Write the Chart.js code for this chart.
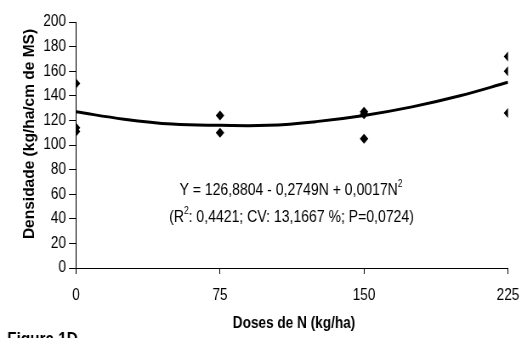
<!DOCTYPE html>
<html>
<head>
<meta charset="utf-8">
<script src="https://cdn.jsdelivr.net/npm/chart.js@4/dist/chart.umd.min.js"></script>
<style>
  html, body { margin: 0; padding: 0; background: #fff; overflow: hidden; }
  #wrap { width: 520px; height: 338px; position: relative; overflow: hidden; }
  #c { position: absolute; left: 0; top: 0; width: 612px; height: 338px;
       transform: scaleX(0.85); transform-origin: 0 0; }
</style>
</head>
<body>
<div id="wrap"><canvas id="c" width="612" height="338"></canvas></div>
<script>
// ---- data ----
const doseTicks = [0, 75, 150, 225];
const obsDose = [0, 0, 0, 75, 75, 150, 150, 150, 225, 225, 225];
const obsDensity = [150, 114, 111, 124, 110, 127, 125, 105, 172, 160, 126];
const curveDose = [0, 25, 50, 75, 100, 125, 150, 175, 200, 225];
const curveDensity = [127, 121, 117, 116, 116, 119, 124, 131, 140, 151];
const yMin = 0, yMax = 200, yStep = 20;

const xTitle = 'Doses de N (kg/ha)';
const yTitle = 'Densidade (kg/ha/cm de MS)';
const eqLine1 = ['Y = 126,8804 - 0,2749N + 0,0017N', '2', ''];
const eqLine2 = ['(R', '2', ': 0,4421; CV: 13,1667 %; P=0,0724)'];
const figLabel = 'Figura 1D';

const SQ = 0.85; // horizontal squeeze of the whole picture
const FONT = "'Liberation Sans', Arial, sans-serif";

const obsPoints = obsDose.map((d, i) => ({ x: d, y: obsDensity[i] }));
const curvePoints = curveDose.map((d, i) => ({ x: d, y: curveDensity[i] }));

function drawSupLine(ctx, parts, cx, cy, size) {
  const main = size + 'px ' + FONT;
  const sup = Math.round(size * 0.6) + 'px ' + FONT;
  ctx.font = main;
  const w0 = ctx.measureText(parts[0]).width;
  const w2 = ctx.measureText(parts[2]).width;
  ctx.font = sup;
  const w1 = ctx.measureText(parts[1]).width;
  let x = cx - (w0 + w1 + w2) / 2;
  ctx.textAlign = 'left';
  ctx.textBaseline = 'middle';
  ctx.font = main;
  ctx.fillText(parts[0], x, cy);
  x += w0;
  ctx.font = sup;
  ctx.fillText(parts[1], x, cy - size * 0.33);
  x += w1;
  ctx.font = main;
  ctx.fillText(parts[2], x, cy);
}

const textPlugin = {
  id: 'texts',
  beforeDraw(chart) {
    const ctx = chart.ctx;
    ctx.save();
    ctx.fillStyle = '#fff';
    ctx.fillRect(0, 0, chart.width, chart.height);
    ctx.restore();
  },
  afterDraw(chart) {
    const ctx = chart.ctx;
    ctx.save();
    ctx.fillStyle = '#000';
    // y title (kept at normal proportions after the squeeze)
    ctx.save();
    ctx.translate(29.5 / SQ, 134);
    ctx.scale(1 / SQ, 1);
    ctx.rotate(-Math.PI / 2);
    ctx.font = 'bold 15.5px ' + FONT;
    ctx.textAlign = 'center';
    ctx.textBaseline = 'middle';
    ctx.fillText(yTitle, 0, 0);
    ctx.restore();
    // x title
    ctx.font = 'bold 16px ' + FONT;
    ctx.textAlign = 'center';
    ctx.textBaseline = 'middle';
    ctx.fillText(xTitle, 294 / SQ, 324);
    // figure label
    ctx.font = 'bold 18px ' + FONT;
    ctx.textAlign = 'left';
    ctx.textBaseline = 'alphabetic';
    ctx.fillText(figLabel, 7.3 / SQ, 345);
    // equation
    drawSupLine(ctx, eqLine1, 291 / SQ, 190, 16.5);
    drawSupLine(ctx, eqLine2, 291.5 / SQ, 217, 16.5);
    ctx.restore();
  }
};

new Chart(document.getElementById('c'), {
  type: 'scatter',
  data: {
    datasets: [
      {
        label: 'curve',
        data: curvePoints,
        showLine: true,
        borderColor: '#000',
        borderWidth: 3,
        pointRadius: 0,
        tension: 0.4,
        fill: false,
        order: 2
      },
      {
        label: 'obs',
        data: obsPoints,
        pointStyle: 'rectRot',
        pointRadius: 5,
        backgroundColor: '#000',
        borderColor: '#000',
        borderWidth: 0,
        order: 1
      }
    ]
  },
  plugins: [textPlugin],
  options: {
    responsive: false,
    animation: false,
    events: [],
    layout: { padding: { left: 0, right: 612 - 508 / SQ, top: 22, bottom: 0 } },
    plugins: { legend: { display: false }, tooltip: { enabled: false } },
    scales: {
      x: {
        type: 'linear',
        min: doseTicks[0],
        max: doseTicks[doseTicks.length - 1],
        afterBuildTicks(scale) { scale.ticks = doseTicks.map(v => ({ value: v })); },
        afterFit(scale) { scale.height = 70; scale.paddingLeft = 0; scale.paddingRight = 0; },
        grid: { drawOnChartArea: false, drawTicks: true, tickLength: 6, color: '#000' },
        border: { display: true, color: '#000', width: 1 },
        ticks: { color: '#000', padding: 12, font: { family: FONT, size: 16 }, maxRotation: 0 }
      },
      y: {
        type: 'linear',
        min: yMin,
        max: yMax,
        ticks: { stepSize: yStep, color: '#000', padding: 3.6, font: { family: FONT, size: 16 } },
        afterFit(scale) { scale.width = 76 / SQ; },
        grid: { drawOnChartArea: false, drawTicks: true, tickLength: 8.2, color: '#000' },
        border: { display: true, color: '#000', width: 1 }
      }
    }
  }
});
</script>
</body>
</html>
